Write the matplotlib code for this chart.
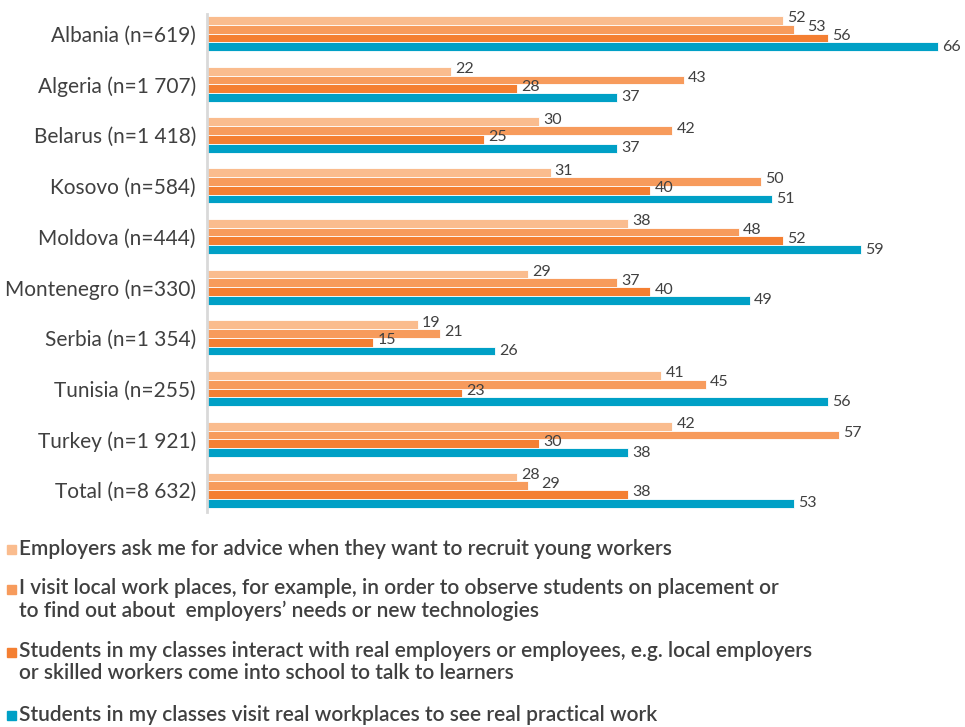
import numpy as np
import matplotlib.pyplot as plt
from matplotlib.patches import Rectangle

plt.rcParams['font.family'] = ['Lato', 'DejaVu Sans']

countries = ["Albania (n=619)", "Algeria (n=1 707)", "Belarus (n=1 418)",
             "Kosovo (n=584)", "Moldova (n=444)", "Montenegro (n=330)",
             "Serbia (n=1 354)", "Tunisia (n=255)", "Turkey (n=1 921)",
             "Total (n=8 632)"]

advice = [52, 22, 30, 31, 38, 29, 19, 41, 42, 28]
visit_local = [53, 43, 42, 50, 48, 37, 21, 45, 57, 29]
interact = [56, 28, 25, 40, 52, 40, 15, 23, 30, 38]
visit_work = [66, 37, 37, 51, 59, 49, 26, 56, 38, 53]

series_labels = [
    "Employers ask me for advice when they want to recruit young workers",
    "I visit local work places, for example, in order to observe students on placement or\n"
    "to find out about  employers\u2019 needs or new technologies",
    "Students in my classes interact with real employers or employees, e.g. local employers\n"
    "or skilled workers come into school to talk to learners",
    "Students in my classes visit real workplaces to see real practical work",
]
colors = ["#FABC8E", "#F79B5C", "#F47F32", "#00A0C6"]
text_col = "#404040"

fig = plt.figure(figsize=(9.65, 7.27), dpi=100)
ax = fig.add_axes([207 / 965, 1 - 512 / 727, 758 / 965, 498 / 727])

y = np.arange(len(countries))
h = 0.1726
labels = [[] for _ in countries]
for k, vals in enumerate([advice, visit_local, interact, visit_work]):
    pos = y + (k - 1.5) * h
    ax.barh(pos, vals, height=h, color=colors[k], edgecolor="white", linewidth=0.6)
    for i, (p, v) in enumerate(zip(pos, vals)):
        ann = ax.annotate(str(v), (v, p), xytext=(3, 1.5 if k < 3 else 0),
                          textcoords="offset points", va="center", ha="left",
                          fontsize=11.5, color=text_col, annotation_clip=False)
        labels[i].append(ann)

ax.set_xlim(0, 68.4)
ax.set_ylim(9.43, -0.385)
ax.set_yticks(y)
ax.set_yticklabels(countries, fontsize=15, color=text_col)
ax.tick_params(axis="y", length=0, pad=8)
ax.set_xticks([])
for s in ["top", "right", "bottom"]:
    ax.spines[s].set_visible(False)
ax.spines["left"].set_color("#D9D9D9")
ax.spines["left"].set_linewidth(2)

# push value labels right when they would run into the one above
fig.canvas.draw()
renderer = fig.canvas.get_renderer()
for group in labels:
    placed = []
    for ann in group:
        bb = ann.get_window_extent(renderer)
        shift = 0
        for pb in placed:
            if (bb.y0 < pb.y1 - 4 and bb.y1 > pb.y0 + 4
                    and bb.x0 + shift < pb.x1 + 1 and bb.x1 + shift > pb.x0):
                shift = pb.x1 + 1 - bb.x0
        if shift:
            dx, dy = ann.xyann
            ann.xyann = (dx + shift * 72 / fig.dpi, dy)
            bb = ann.get_window_extent(renderer)
        placed.append(bb)

# legend drawn by hand below the plot area
rows = [549, 589, 652, 715]
for k, (lab, ry) in enumerate(zip(series_labels, rows)):
    fig.patches.append(Rectangle((7 / 965, 1 - (ry + 5) / 727), 9 / 965, 9 / 727,
                                 transform=fig.transFigure, color=colors[k]))
    multi = "\n" in lab
    ty = 1 - (ry - 11) / 727 if multi else 1 - ry / 727
    fig.text(19 / 965, ty, lab, fontsize=15, color=text_col,
             weight="semibold", va="top" if multi else "center",
             linespacing=1.15)

fig.savefig("out.png", dpi=100)
